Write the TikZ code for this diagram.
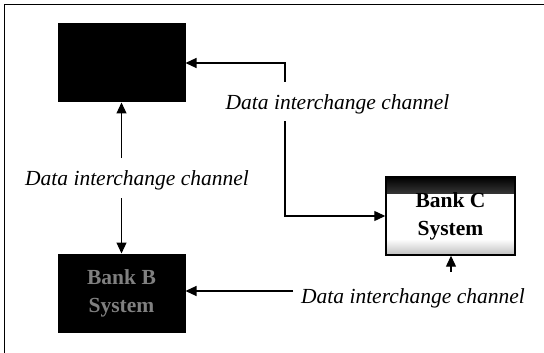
\documentclass[tikz,border=0pt]{standalone}
\usepackage{fontspec}
\setmainfont{Liberation Serif}
\usetikzlibrary{arrows.meta}
\tikzset{
  x=1pt, y=-1pt,
  sysbox/.style={draw=black, line width=1pt, minimum width=127pt, minimum height=78pt,
    inner sep=0pt, align=center, font=\fontsize{21.5}{28}\selectfont\bfseries},
  darkbox/.style={sysbox, fill=black, text=black!50},
  lightbox/.style={sysbox, line width=1.4pt, minimum width=129pt, fill=white,
    path picture={
      \shade[top color=black, bottom color=white]
        (path picture bounding box.north west) rectangle
        ([yshift=-16pt]path picture bounding box.north east);
      \shade[top color=white, bottom color=black!25]
        ([yshift=16pt]path picture bounding box.south west) rectangle
        (path picture bounding box.south east);
    }},
  chanlabel/.style={inner sep=0pt, font=\fontsize{21.5}{24}\selectfont\itshape},
  link/.style={line width=1.2pt, -{Triangle[length=11pt,width=10pt]}}
}
\begin{document}
\begin{tikzpicture}
  \useasboundingbox (0,0) rectangle (544,353);
  % frame: top and left edges only
  \draw[line width=1pt] (4,353) -- (4,5) -- (544,5);

  % bank systems
  \node[darkbox]  (bankA) at (121.5,63)  {};
  \node[darkbox]  (bankB) at (121.5,293) {Bank B\\System};
  \node[lightbox] (bankC) at (450.5,216) {Bank C\\System};

  % channel labels
  \node[chanlabel] (labAC) at (337.5,104) {Data interchange channel};
  \node[chanlabel] (labAB) at (137,180)   {Data interchange channel};
  \node[chanlabel] (labBC) at (413,298)   {Data interchange channel};

  % connector ends beside the labels
  \coordinate (acTop) at (285,82);
  \coordinate (acBot) at (285,121);
  \coordinate (abTop) at (121.5,158);
  \coordinate (abBot) at (121.5,198);
  \coordinate (bcLeft) at (293,291);
  \coordinate (bcUp) at (451,272);

  % channel A -- C
  \draw[link] (acTop) |- (bankA.east);
  \draw[link] (acBot) |- (bankC.west);
  % channel A -- B
  \draw[link] (abTop) -- (bankA.south);
  \draw[link] (abBot) -- (bankB.north);
  % channel B -- C
  \draw[link] (bcLeft) -- (bankB.east |- bcLeft);
  \draw[link] (bcUp) -- (bankC.south -| bcUp);
\end{tikzpicture}
\end{document}
